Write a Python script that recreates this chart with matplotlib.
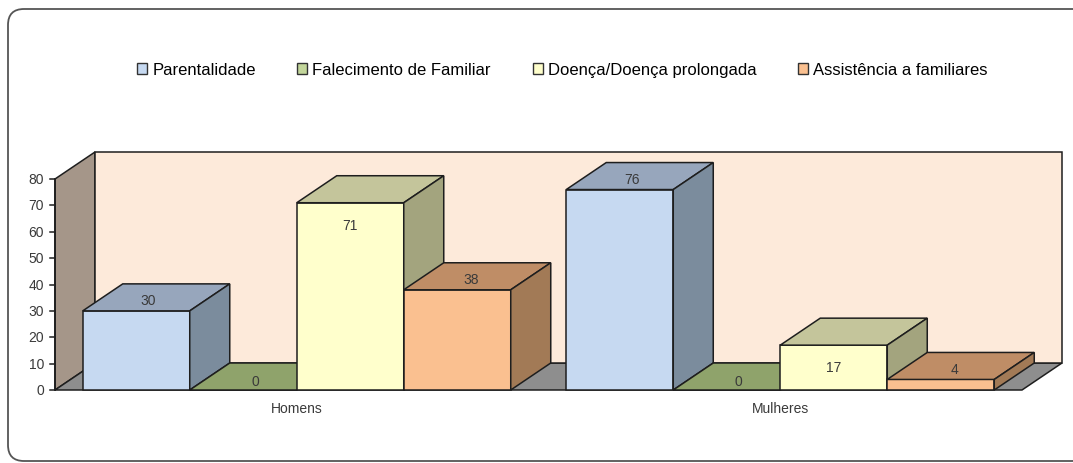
import matplotlib
matplotlib.use("Agg")
import matplotlib.pyplot as plt
from matplotlib.patches import Polygon, Rectangle, FancyBboxPatch, Patch

plt.rcParams['font.family'] = ['Liberation Sans', 'DejaVu Sans']

# data
categories = ['Homens', 'Mulheres']
series = ['Parentalidade', 'Falecimento de Familiar',
          'Doença/Doença prolongada', 'Assistência a familiares']
values = [[30, 76],   # Parentalidade
          [0, 0],     # Falecimento de Familiar
          [71, 17],   # Doença/Doença prolongada
          [38, 4]]    # Assistência a familiares
yticks = [0, 10, 20, 30, 40, 50, 60, 70, 80]

# colours per series: front, top, side
front_cols = ['#C6D9F1', '#C3D69B', '#FFFFCC', '#FAC090']
top_cols = ['#97A6BC', '#8FA36B', '#C4C59B', '#BF8D66']
side_cols = ['#7B8C9D', '#75865A', '#A3A47E', '#A27A56']
legend_cols = ['#C6D9F1', '#C3D69B', '#FFFFCC', '#FAC090']
edge = '#1E1E1E'
txt = '#3A3A3A'

W, H = 1073, 464
fig = plt.figure(figsize=(W / 100, H / 100), dpi=100)

# background frame in pixel coords
bg = fig.add_axes([0, 0, 1, 1])
bg.set_xlim(0, W)
bg.set_ylim(H, 0)
bg.axis('off')
bg.add_patch(FancyBboxPatch((8, 10), 1080, 452,
                            boxstyle='round,pad=0,rounding_size=16',
                            facecolor='white', edgecolor='#555555', lw=1.3))

# main axes: x in category units, y in value units
x0_px, x2_px = 55, 1022
y0_px, y80_px = 391, 180
px_x = (x2_px - x0_px) / 2.0
px_y = (y0_px - y80_px) / 80.0
ax = fig.add_axes([0, 0, 1, 1])
ax.set_xlim(-x0_px / px_x, (W - x0_px) / px_x)
ax.set_ylim(-(H - y0_px) / px_y, y0_px / px_y)
ax.axis('off')
ax.patch.set_alpha(0)

ddx = 40 / px_x       # depth offset
ddy = 27 / px_y
ymax = yticks[-1]
ncat = len(categories)

# walls and floor
ax.add_patch(Polygon([(0, 0), (0, ymax), (ddx, ymax + ddy), (ddx, ddy)],
                     closed=True, facecolor='#A59689', edgecolor=edge, lw=1.1))
ax.add_patch(Polygon([(0, 0), (ncat, 0), (ncat + ddx, ddy), (ddx, ddy)],
                     closed=True, facecolor='#8E8E8E', edgecolor=edge, lw=1.1))
ax.add_patch(Rectangle((ddx, ddy), ncat, ymax, facecolor='#FDEADA',
                       edgecolor=edge, lw=1.1))

# y axis ticks
ax.plot([0, 0], [0, ymax], color=edge, lw=1.3)
for t in yticks:
    ax.plot([-5 / px_x, 0], [t, t], color=edge, lw=1.1)
    ax.text(-11 / px_x, t, str(t), ha='right', va='center', fontsize=10,
            color=txt)

# bars
bw = 107 / px_x
gap = (1 - len(series) * bw) / 2
lab_dx = [12, 12, 0, 14]
lab_dy = [4, 3.4, -8.4, 4]
for i, cat in enumerate(categories):
    for j in range(len(series)):
        v = values[j][i]
        x = i + gap + j * bw
        ax.add_patch(Rectangle((x, 0), bw, v, facecolor=front_cols[j],
                               edgecolor=edge, lw=1.1))
        ax.add_patch(Polygon([(x, v), (x + bw, v), (x + bw + ddx, v + ddy),
                              (x + ddx, v + ddy)], closed=True,
                             facecolor=top_cols[j], edgecolor=edge, lw=1.1))
        ax.add_patch(Polygon([(x + bw, 0), (x + bw, v), (x + bw + ddx, v + ddy),
                              (x + bw + ddx, ddy)], closed=True,
                             facecolor=side_cols[j], edgecolor=edge, lw=1.1))
    for j in range(len(series)):
        v = values[j][i]
        x = i + gap + j * bw
        ax.text(x + bw / 2 + lab_dx[j] / px_x, v + lab_dy[j], str(v),
                ha='center', va='center', fontsize=10, color=txt)
    ax.text(i + 0.5, -6.8, cat, ha='center', va='center', fontsize=10,
            color=txt)

handles = [Patch(facecolor=c, edgecolor='#333333', lw=1) for c in legend_cols]
fig.legend(handles, series, loc='center', bbox_to_anchor=(0.524, 0.847),
           ncol=4, frameon=False, fontsize=12, handlelength=0.6,
           handleheight=0.6, handletextpad=0.3, columnspacing=2.5)

fig.savefig('out.png', dpi=100, facecolor='white')
